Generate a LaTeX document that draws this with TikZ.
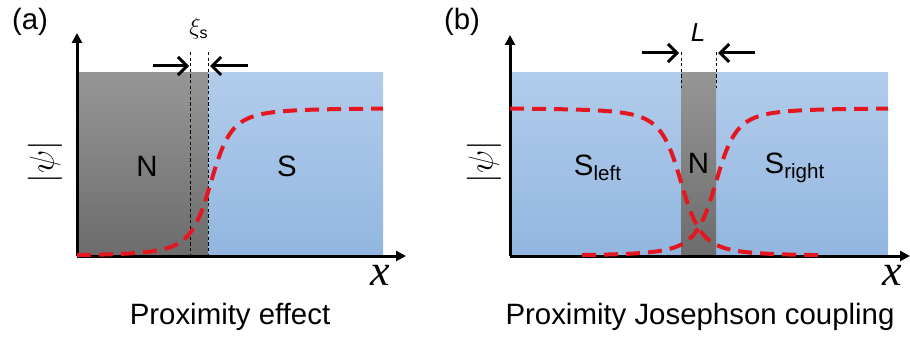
\documentclass[tikz,border=0pt]{standalone}
\usepackage{amsmath}
\usepackage{fontspec}
\setmainfont{Liberation Sans}
\newfontfamily\xserif{Liberation Serif}
\usepackage{tikz}
\usetikzlibrary{arrows.meta,positioning}
\definecolor{sctop}{RGB}{178,204,235}
\definecolor{scbot}{RGB}{146,182,224}
\definecolor{nmtop}{RGB}{150,150,150}
\definecolor{nmbot}{RGB}{108,108,108}
\definecolor{psired}{RGB}{228,22,32}
\tikzset{
  axis/.style={-{Triangle[length=5pt,width=5pt]}, line width=1.5pt},
  wfn/.style={psired, line width=2pt, dash pattern=on 7pt off 4pt},
  bnd/.style={black, line width=0.5pt, dash pattern=on 1.6pt off 1.2pt},
  warr/.style={-{Straight Barb[length=4.5pt,width=9pt]}, line width=1.5pt},
  sreg/.style={top color=sctop, bottom color=scbot, draw=none},
  nreg/.style={top color=nmtop, bottom color=nmbot, draw=none},
  lbl/.style={font=\fontsize{14.7}{17}\selectfont},
  mlbl/.style={font=\fontsize{19}{21}\selectfont},
  xlbl/.style={font=\fontsize{22}{24}\selectfont\xserif\itshape},
  slbl/.style={font=\fontsize{12}{14}\selectfont},
}
\begin{document}
\begin{tikzpicture}[x=5pt, y=5pt,
    declare function={sig(\z)=0.5*(1+\z/sqrt(1+\z*\z));}]
  \useasboundingbox (0,0) rectangle (91,33.8);
  % (a) proximity effect
  \shade[nreg] (7.7,8.2) rectangle (20.8,26.5);
  \shade[sreg] (20.8,8.2) rectangle (38.3,26.5);
  \coordinate (oa) at (7.7,8.2);
  \coordinate (ya) at (7.7,30.5);
  \coordinate (xa) at (40.6,8.2);
  \draw[axis] (oa) -- (ya);
  \draw[axis] (oa) -- (xa);
  \coordinate (da1) at (19.0,28.6); \coordinate (da1b) at (19.0,8.2);
  \coordinate (da2) at (20.8,28.6); \coordinate (da2b) at (20.8,8.2);
  \draw[bnd] (da1) -- (da1b);
  \draw[bnd] (da2) -- (da2b);
  \draw[wfn] plot[domain=7.7:38.3, samples=140] (\x,{8.2+14.8*sig((\x-21.1)/2.2)});
  \coordinate (al) at (15.3,27.2); \coordinate (ale) at (18.9,27.2);
  \coordinate (ar) at (24.8,27.2); \coordinate (are) at (21.0,27.2);
  \draw[warr] (al) -- (ale);
  \draw[warr] (ar) -- (are);
  \node[slbl] (xis) at (19.9,30.9) {$\xi_{\mathrm{s}}$};
  \node[lbl] (Na) at (14.7,17.2) {N};
  \node[lbl] (Sa) at (28.7,17.2) {S};
  \node[mlbl, rotate=90] (psia) at (4.5,17.6) {$|\psi|$};
  \node[xlbl] (xla) at (38.0,6.3) {x};
  \node[lbl] (tia) at (23.0,2.1) {Proximity effect};
  \node[lbl] (pa) at (3.0,31.6) {(a)};
  % (b) proximity Josephson coupling
  \shade[sreg] (51.0,8.2) rectangle (88.8,26.5);
  \shade[nreg] (68.1,8.2) rectangle (71.6,26.5);
  \coordinate (ob) at (51.0,8.2);
  \coordinate (yb) at (51.0,30.3);
  \coordinate (xb) at (91.0,8.2);
  \draw[axis] (ob) -- (yb);
  \draw[axis] (ob) -- (xb);
  \coordinate (db1) at (68.1,28.6); \coordinate (db1b) at (68.1,25.0);
  \coordinate (db2) at (71.6,28.6); \coordinate (db2b) at (71.6,25.0);
  \draw[bnd] (db1) -- (db1b);
  \draw[bnd] (db2) -- (db2b);
  \draw[wfn] plot[domain=51.0:81.8, samples=140] (\x,{8.2+14.8*sig((68.1-\x)/2.2)});
  \draw[wfn] plot[domain=58.2:88.8, samples=140] (\x,{8.2+14.8*sig((\x-71.6)/2.2)});
  \coordinate (bl) at (64.2,28.5); \coordinate (ble) at (67.9,28.5);
  \coordinate (br) at (75.5,28.5); \coordinate (bre) at (71.8,28.5);
  \draw[warr] (bl) -- (ble);
  \draw[warr] (br) -- (bre);
  \node[font=\fontsize{13}{15}\selectfont\itshape] (Lb) at (69.8,30.5) {L};
  \node[lbl] (Slb) at (59.8,17.0) {S\textsubscript{left}};
  \node[lbl] (Nb) at (69.85,17.5) {N};
  \node[lbl] (Srb) at (79.5,17.0) {S\textsubscript{right}};
  \node[mlbl, rotate=90] (psib) at (48.4,17.6) {$|\psi|$};
  \node[xlbl] (xlb) at (89.2,6.3) {x};
  \node[lbl] (tib) at (70.0,2.1) {Proximity Josephson coupling};
  \node[lbl] (pb) at (46.2,31.6) {(b)};
\end{tikzpicture}
\end{document}
